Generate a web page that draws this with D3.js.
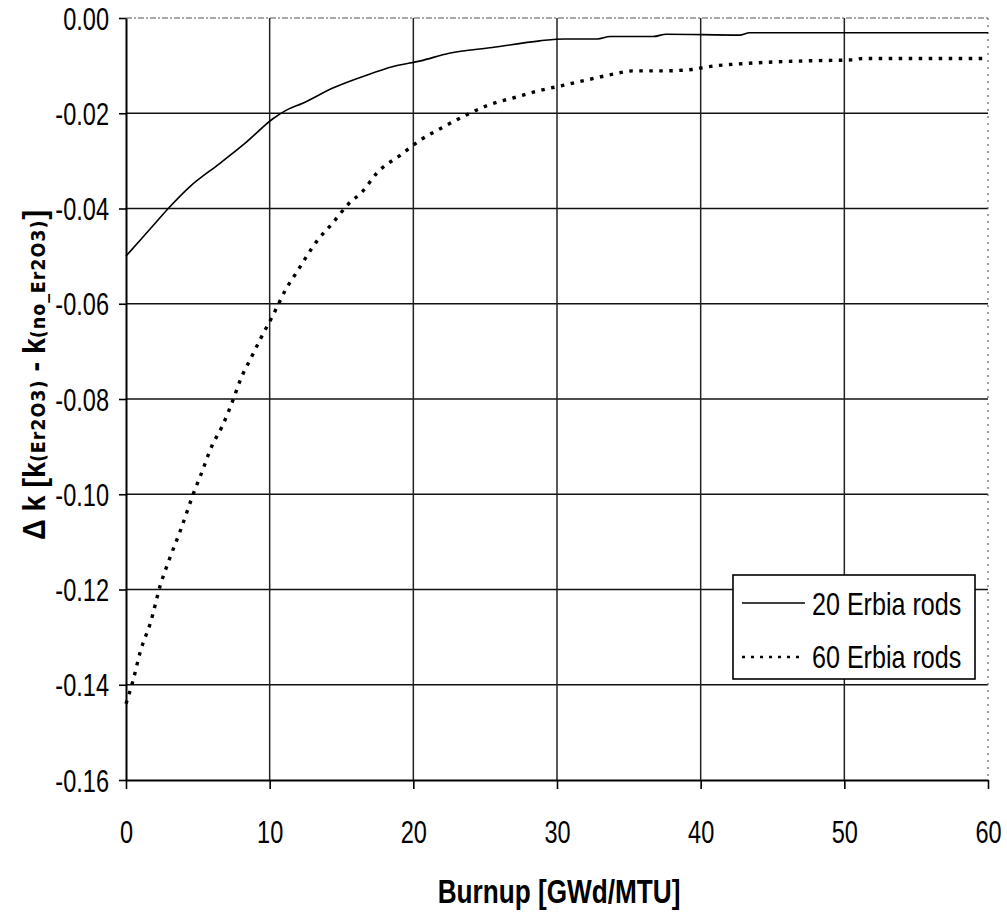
<!DOCTYPE html>
<html><head><meta charset="utf-8">
<script src="https://cdn.jsdelivr.net/npm/d3@7"></script>
<style>
html,body{margin:0;padding:0;background:#fff;}
svg{display:block;}
text{font-family:"Liberation Sans",Arial,sans-serif;fill:#000;}
</style></head>
<body><svg id="chart" width="1007" height="913"></svg>
<script>
const xTicks = [0, 10, 20, 30, 40, 50, 60];
const yTicks = [0, -0.02, -0.04, -0.06, -0.08, -0.10, -0.12, -0.14, -0.16];
const seriesNames = ["20 Erbia rods", "60 Erbia rods"];

const burnup20 = [0, 1, 2, 2.94, 4.45, 6.54, 8.4, 10.25, 11.2, 12.3, 14.4, 16.75, 18.6, 20.5, 22.5, 25.5, 28.8, 30.5, 32.8, 33.7, 36.7, 37.6, 42.7, 43.4, 50, 60];
const dk20 = [-0.0500, -0.0466, -0.0432, -0.0400, -0.0354, -0.0305, -0.0260, -0.0211, -0.0193, -0.0179, -0.0147, -0.0120, -0.0102, -0.0090, -0.0074, -0.0062, -0.0048, -0.0044, -0.0044, -0.0039, -0.0039, -0.0034, -0.0036, -0.0031, -0.0031, -0.0031];

const burnup60 = [0, 0.5, 1, 1.7, 2.4, 3.1, 3.8, 4.8, 5.2, 6.0, 6.7, 7.4, 8.0, 8.75, 9.44, 10.3, 11.1, 11.9, 13.3, 14.4, 15.5, 16.5, 17.45, 19.1, 20.5, 21.9, 23.8, 25.2, 27.3, 28.7, 30.5, 32.1, 33.9, 35.3, 37.4, 39.4, 40.6, 43.4, 47.4, 50.5, 51.3, 60];
const dk60 = [-0.144, -0.139, -0.133, -0.127, -0.119, -0.113, -0.1075, -0.099, -0.096, -0.0897, -0.0857, -0.0806, -0.0757, -0.0711, -0.0669, -0.062, -0.0571, -0.0533, -0.0468, -0.043, -0.039, -0.0363, -0.0326, -0.0288, -0.0256, -0.0232, -0.0202, -0.0183, -0.0165, -0.0153, -0.0141, -0.013, -0.0118, -0.0111, -0.0111, -0.0108, -0.0102, -0.0095, -0.009, -0.0088, -0.0085, -0.0085];

const NT = 0.76, NL = 0.81, NB = 0.77;
const svg = d3.select("#chart");
const L = 126, R = 988, T = 18, B = 780;
const x = d3.scaleLinear().domain([0, 60]).range([L, R]);
const y = d3.scaleLinear().domain([-0.16, 0]).range([B, T]);

const g = svg.append("g");

// grid lines
g.selectAll(".hg").data(yTicks.filter(v => v > -0.159 && v < -0.001)).join("line")
  .attr("x1", L).attr("x2", R).attr("y1", d => y(d)).attr("y2", d => y(d))
  .attr("stroke", "#111").attr("stroke-width", 1.6);
g.selectAll(".vg").data(xTicks.filter(v => v > 0 && v < 60)).join("line")
  .attr("y1", T).attr("y2", B).attr("x1", d => x(d)).attr("x2", d => x(d))
  .attr("stroke", "#222").attr("stroke-width", 1.5);
// top and right borders (faint, dashed)
g.append("line").attr("x1", L).attr("x2", R).attr("y1", y(0)).attr("y2", y(0))
  .attr("stroke", "#555").attr("stroke-width", 1.2).attr("stroke-dasharray", "6,2,2,2");
g.append("line").attr("x1", R).attr("x2", R).attr("y1", T).attr("y2", B)
  .attr("stroke", "#666").attr("stroke-width", 1.2).attr("stroke-dasharray", "2,5");

// axes
const yAxis = d3.axisLeft(y).tickValues(yTicks).tickSize(7).tickSizeOuter(0)
  .tickFormat(d => d.toFixed(2));
const ya = svg.append("g").attr("transform", `translate(${L},0)`).call(yAxis);
ya.select(".domain").attr("stroke", "#000").attr("stroke-width", 2);
ya.selectAll(".tick line").attr("stroke", "#000").attr("stroke-width", 1.6);
ya.selectAll(".tick text").attr("x", -17 / NT).attr("dy", "0.36em")
  .attr("transform", `scale(${NT},1)`)
  .style("font-size", "31px").style("font-family", null);

const xAxis = d3.axisBottom(x).tickValues(xTicks).tickSize(9).tickSizeOuter(0)
  .tickFormat(d3.format("d"));
const xa = svg.append("g").attr("transform", `translate(0,${B})`).call(xAxis);
xa.select(".domain").attr("stroke", "#000").attr("stroke-width", 2);
xa.selectAll(".tick line").attr("stroke", "#000").attr("stroke-width", 1.6);
xa.selectAll(".tick text").attr("y", 63).attr("dy", 0)
  .attr("transform", `scale(${NT},1)`)
  .style("font-size", "31px").style("font-family", null);
svg.selectAll(".tick text").attr("fill", "#000");

// lines
const line = d3.line().x(d => x(d[0])).y(d => y(d[1])).curve(d3.curveMonotoneX);
svg.append("path").datum(burnup20.map((b, i) => [b, dk20[i]]))
  .attr("d", line).attr("fill", "none").attr("stroke", "#000").attr("stroke-width", 1.6);
svg.append("path").datum(burnup60.map((b, i) => [b, dk60[i]]))
  .attr("d", line).attr("fill", "none").attr("stroke", "#000").attr("stroke-width", 3.4)
  .attr("stroke-dasharray", "3.5,6.5");

// legend
const lg = svg.append("g");
lg.append("rect").attr("x", 733).attr("y", 575).attr("width", 242).attr("height", 104)
  .attr("fill", "#fff").attr("stroke", "#000").attr("stroke-width", 1.6);
lg.append("line").attr("x1", 742).attr("x2", 805).attr("y1", 603).attr("y2", 603)
  .attr("stroke", "#000").attr("stroke-width", 1.6);
lg.append("line").attr("x1", 742).attr("x2", 805).attr("y1", 657).attr("y2", 657)
  .attr("stroke", "#000").attr("stroke-width", 2.6).attr("stroke-dasharray", "3,6");
lg.selectAll(".lt").data(seriesNames).join("text")
  .attr("x", 812 / NL).attr("y", (d, i) => 615 + i * 53)
  .attr("transform", `scale(${NL},1)`)
  .style("font-size", "31px").text(d => d);

// axis titles
svg.append("text").attr("x", 559 / NB).attr("y", 903).attr("text-anchor", "middle")
  .attr("transform", `scale(${NB},1)`)
  .style("font-size", "34px").style("font-weight", "bold").text("Burnup [GWd/MTU]");

const yt = svg.append("text").attr("transform", "translate(45,375) rotate(-90)")
  .attr("text-anchor", "middle").style("font-weight", "bold")
  .attr("textLength", 330).attr("lengthAdjust", "spacingAndGlyphs");
yt.append("tspan").style("font-size", "31px").text("Δ k [k");
yt.append("tspan").style("font-size", "19px").style("font-family", "'DejaVu Sans',sans-serif")
  .style("letter-spacing", "1px").text("(Er2O3)");
yt.append("tspan").style("font-size", "31px").text(" - k");
yt.append("tspan").style("font-size", "19px").style("font-family", "'DejaVu Sans',sans-serif")
  .style("letter-spacing", "1px").text("(no_Er2O3)");
yt.append("tspan").style("font-size", "31px").text("]");
</script>
</body></html>
